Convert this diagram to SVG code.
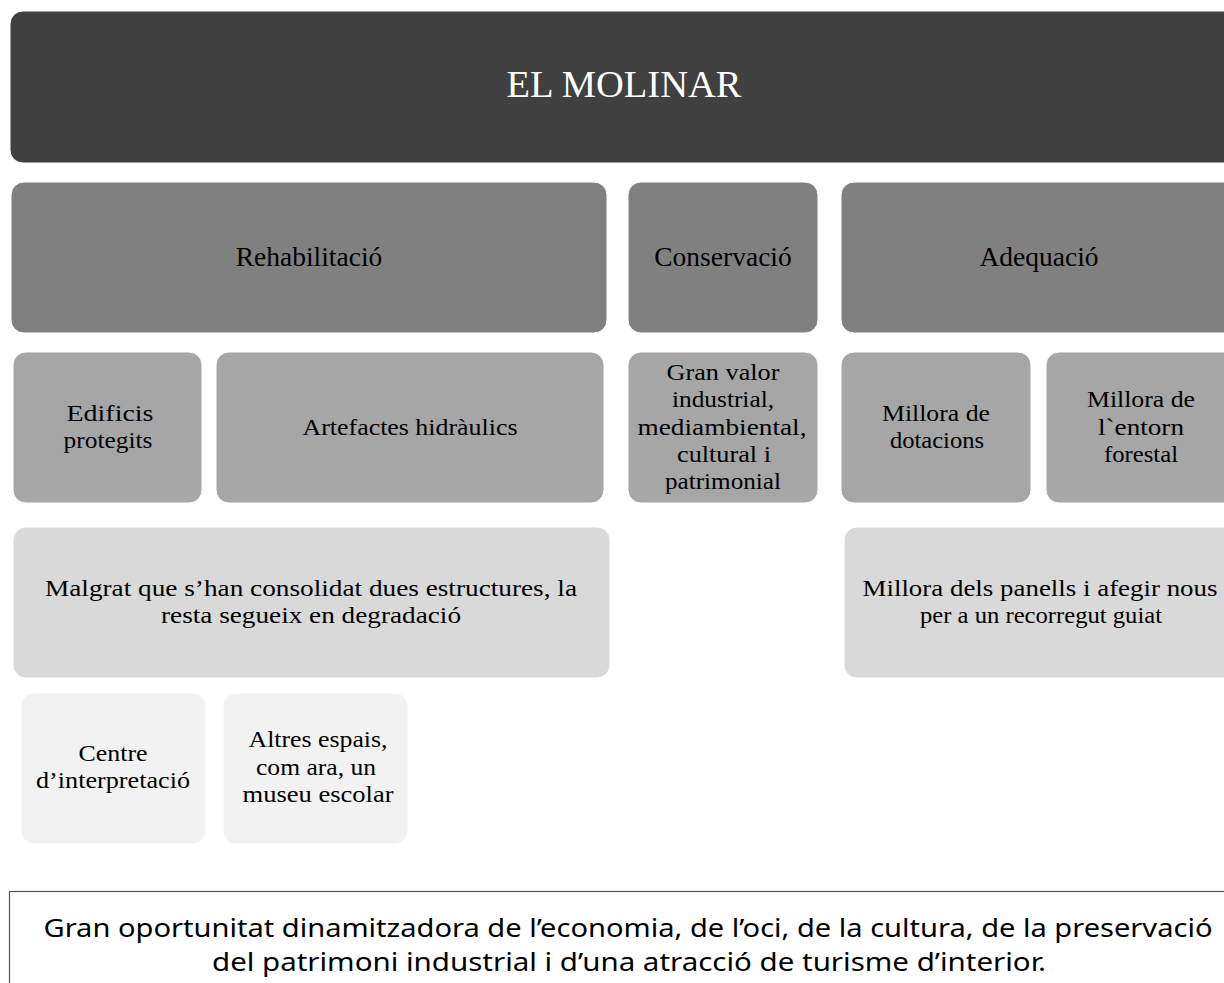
<svg xmlns="http://www.w3.org/2000/svg" width="1224" height="983" viewBox="0 0 1224 983">
<style>
  .t { font-family: "Liberation Serif", "DejaVu Serif", serif; text-anchor: middle; fill: #000; }
  .h { font-size: 27.5px; }
  .c { font-size: 24px; }
  .title { font-size: 38.5px; fill: #fff; }
  .l1 { fill: #404040; }
  .l2 { fill: #808080; }
  .l3 { fill: #a6a6a6; }
  .l4 { fill: #d9d9d9; }
  .l5 { fill: #f2f2f2; }
  .bx { stroke: #ffffff; stroke-width: 1; }
  .note { font-family: "Noto Sans", "Open Sans", "Liberation Sans", sans-serif; font-size: 25px; text-anchor: middle; fill: #000; }
</style>
<rect width="1224" height="983" fill="#fff"/>
<g id="connectors"></g>
<g id="n-title"><rect class="l1 bx" x="10" y="11" width="1228" height="152" rx="13"/><text class="t title" x="624" y="97">EL MOLINAR</text></g>
<g id="n-rehab"><rect class="l2 bx" x="11" y="182" width="596" height="151" rx="13"/><text class="t h" x="309" y="266">Rehabilitació</text></g>
<g id="n-conserv"><rect class="l2 bx" x="628" y="182" width="190" height="151" rx="13"/><text class="t h" x="723" y="266">Conservació</text></g>
<g id="n-adeq"><rect class="l2 bx" x="841" y="182" width="397" height="151" rx="13"/><text class="t h" x="1039" y="266">Adequació</text></g>
<g id="n-edificis"><rect class="l3 bx" x="13" y="352" width="189" height="151" rx="13"/><text class="t c" x="110" y="421" textLength="87" lengthAdjust="spacingAndGlyphs">Edificis</text><text class="t c" x="108" y="448" textLength="89" lengthAdjust="spacingAndGlyphs">protegits</text></g>
<g id="n-artefactes"><rect class="l3 bx" x="216" y="352" width="388" height="151" rx="13"/><text class="t c" x="410" y="435" textLength="215" lengthAdjust="spacingAndGlyphs">Artefactes hidràulics</text></g>
<g id="n-granvalor"><rect class="l3 bx" x="628" y="352" width="190" height="151" rx="13"/><text class="t c" x="723" y="380" textLength="113" lengthAdjust="spacingAndGlyphs">Gran valor</text><text class="t c" x="723" y="407" textLength="102" lengthAdjust="spacingAndGlyphs">industrial,</text><text class="t c" x="722" y="435" textLength="169" lengthAdjust="spacingAndGlyphs">mediambiental,</text><text class="t c" x="724" y="462" textLength="94" lengthAdjust="spacingAndGlyphs">cultural i</text><text class="t c" x="723" y="489" textLength="116" lengthAdjust="spacingAndGlyphs">patrimonial</text></g>
<g id="n-dotacions"><rect class="l3 bx" x="841" y="352" width="190" height="151" rx="13"/><text class="t c" x="936" y="421" textLength="108" lengthAdjust="spacingAndGlyphs">Millora de</text><text class="t c" x="937" y="448" textLength="94" lengthAdjust="spacingAndGlyphs">dotacions</text></g>
<g id="n-entorn"><rect class="l3 bx" x="1046" y="352" width="192" height="151" rx="13"/><text class="t c" x="1141" y="407" textLength="108" lengthAdjust="spacingAndGlyphs">Millora de</text><text class="t c" x="1141" y="435" textLength="86" lengthAdjust="spacingAndGlyphs">l`entorn</text><text class="t c" x="1141" y="462" textLength="74" lengthAdjust="spacingAndGlyphs">forestal</text></g>
<g id="n-malgrat"><rect class="l4 bx" x="13" y="527" width="597" height="151" rx="13"/><text class="t c" x="311" y="596" textLength="532" lengthAdjust="spacingAndGlyphs">Malgrat que s’han consolidat dues estructures, la</text><text class="t c" x="311" y="623" textLength="300" lengthAdjust="spacingAndGlyphs">resta segueix en degradació</text></g>
<g id="n-panells"><rect class="l4 bx" x="844" y="527" width="394" height="151" rx="13"/><text class="t c" x="1040" y="596" textLength="355" lengthAdjust="spacingAndGlyphs">Millora dels panells i afegir nous</text><text class="t c" x="1041" y="623" textLength="242" lengthAdjust="spacingAndGlyphs">per a un recorregut guiat</text></g>
<g id="n-centre"><rect class="l5 bx" x="21" y="693" width="185" height="151" rx="13"/><text class="t c" x="113" y="761" textLength="69" lengthAdjust="spacingAndGlyphs">Centre</text><text class="t c" x="113" y="788" textLength="154" lengthAdjust="spacingAndGlyphs">d’interpretació</text></g>
<g id="n-altres"><rect class="l5 bx" x="223" y="693" width="185" height="151" rx="13"/><text class="t c" x="318" y="747" textLength="139" lengthAdjust="spacingAndGlyphs">Altres espais,</text><text class="t c" x="316" y="775" textLength="120" lengthAdjust="spacingAndGlyphs">com ara, un</text><text class="t c" x="318" y="802" textLength="151" lengthAdjust="spacingAndGlyphs">museu escolar</text></g>
<g id="n-note"><rect x="9.5" y="891.5" width="1240" height="120" fill="#fff" stroke="#595959" stroke-width="1.2"/><text class="note" x="628" y="937" textLength="1169" lengthAdjust="spacingAndGlyphs">Gran oportunitat dinamitzadora de l’economia, de l’oci, de la cultura, de la preservació</text><text class="note" x="629" y="971" textLength="834" lengthAdjust="spacingAndGlyphs">del patrimoni industrial i d’una atracció de turisme d’interior.</text></g>
</svg>
